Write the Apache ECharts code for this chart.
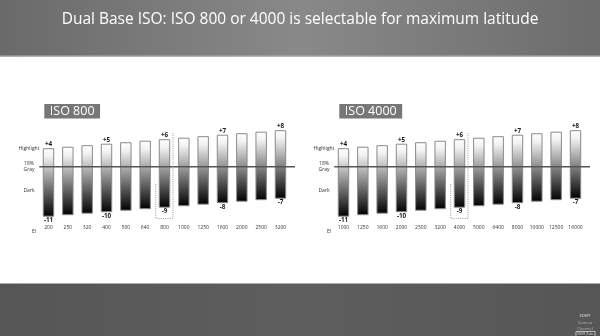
<!DOCTYPE html>
<html>
<head>
<meta charset="utf-8">
<style>
  html, body { margin: 0; padding: 0; background: #ffffff; }
  #chart { width: 600px; height: 336px; }
</style>
<script src="https://cdn.jsdelivr.net/npm/echarts@6/dist/echarts.min.js"></script>
</head>
<body>
<div id="chart"></div>
<script>
// ---- data ----
const titleText = 'Dual Base ISO: ISO 800 or 4000 is selectable for maximum latitude';
const panelTitles = ['ISO 800', 'ISO 4000'];
const eiLeft = ['200', '250', '320', '400', '500', '640', '800', '1000', '1250', '1600', '2000', '2500', '3200'];
const eiRight = ['1000', '1250', '1600', '2000', '2500', '3200', '4000', '5000', '6400', '8000', '10000', '12500', '16000'];
// stops above / below 18% gray
const highlightStops = [4, 4.33, 4.67, 5, 5.33, 5.67, 6, 6.33, 6.67, 7, 7.33, 7.67, 8];
const darkStops = [-11, -10.67, -10.33, -10, -9.67, -9.33, -9, -8.67, -8.33, -8, -7.67, -7.33, -7];
const highlightLabels = ['+4', '', '', '+5', '', '', '+6', '', '', '+7', '', '', '+8'];
const darkLabels = ['-11', '', '', '-10', '', '', '-9', '', '', '-8', '', '', '-7'];
const baseIndex = 6;            // base ISO column (800 / 4000)
const baseBox = [7.5, -3.85, -11.5]; // dotted marker: top, left-top, bottom (stops)
const yLabelValues = [4.1, 0, -5.3];
const yLabelTexts = ['Highlight', '18%\nGray', 'Dark'];
const grayLine = [[0, 0], [1, 0]];

// ---- layout ----
const Y_MIN = -12.3, Y_MAX = 9;
const GTOP = 126.2, GH = 95.85;
const panelOffsets = [0, 295];
const barGridLeft = 38.83, barGridW = 251.33;
const lineGridLeft = 39.3, lineGridW = 255.7;

const chart = echarts.init(document.getElementById('chart'), null, { renderer: 'canvas' });

const barData = highlightStops.map((h, i) => [i, h, darkStops[i]]);

function renderBar(params, api) {
  const idx = params.dataIndex;
  const top = api.coord([api.value(0), api.value(1)]);
  const bot = api.coord([api.value(0), api.value(2)]);
  const band = api.size([1, 0])[0];
  const bw = band * 0.54;
  const children = [{
    type: 'rect',
    shape: { x: top[0] - bw / 2, y: top[1], width: bw, height: bot[1] - top[1] },
    style: {
      fill: { type: 'linear', x: 0, y: 0, x2: 0, y2: 1,
        colorStops: [{ offset: 0, color: '#ffffff' }, { offset: 0.12, color: '#f2f2f2' }, { offset: 1, color: '#000000' }] },
      stroke: '#8a8a8a', lineWidth: 1
    }
  }];
  if (highlightLabels[idx]) {
    children.push({ type: 'text', x: top[0], y: top[1] - 4,
      style: { text: highlightLabels[idx], fill: '#1a1a1a', font: 'bold 6.3px "Open Sans"', align: 'center', verticalAlign: 'middle' } });
  }
  if (darkLabels[idx]) {
    children.push({ type: 'text', x: bot[0], y: bot[1] + 4.5,
      style: { text: darkLabels[idx], fill: '#1a1a1a', font: 'bold 6.3px "Open Sans"', align: 'center', verticalAlign: 'middle' } });
  }
  return { type: 'group', children };
}

function renderBox(params, api) {
  const c = api.value(0);
  const band = api.size([1, 0])[0];
  const xt = api.coord([c, api.value(1)]);
  const xl = api.coord([c, api.value(2)]);
  const xb = api.coord([c, api.value(3)]);
  const left = xt[0] - band * 0.455, right = xt[0] + band * 0.44;
  return {
    type: 'polyline',
    shape: { points: [[left, xl[1]], [left, xb[1]], [right, xb[1]], [right, xt[1]]] },
    style: { stroke: '#9a9a9a', lineWidth: 1, lineDash: [1, 1.2], fill: null }
  };
}

const grids = [], xAxes = [], yAxes = [], series = [], titles = [];
titles.push({ text: titleText, left: 'center', top: 7,
  textStyle: { color: '#ffffff', fontSize: 15.5, fontWeight: 'normal', fontFamily: 'Open Sans' } });

panelOffsets.forEach((off, p) => {
  const cats = p === 0 ? eiLeft : eiRight;
  // bar grid
  grids.push({ left: barGridLeft + off, width: barGridW, top: GTOP, height: GH });
  xAxes.push({ type: 'category', gridIndex: 2 * p, data: cats, boundaryGap: true,
    axisLine: { show: false }, axisTick: { show: false },
    axisLabel: { fontSize: 5, color: '#333', margin: 3.2, interval: 0, fontFamily: 'Open Sans' } });
  yAxes.push({ type: 'value', gridIndex: 2 * p, min: Y_MIN, max: Y_MAX,
    splitLine: { show: false }, axisLine: { show: false }, axisTick: { show: false },
    axisLabel: { customValues: yLabelValues, align: 'center', margin: 9.8, fontSize: 5, color: '#333', lineHeight: 5.5,
      fontFamily: 'Open Sans',
      formatter: v => { const k = yLabelValues.findIndex(x => Math.abs(x - v) < 1e-6); return k >= 0 ? yLabelTexts[k] : ''; } } });
  // line grid
  grids.push({ left: lineGridLeft + off, width: lineGridW, top: GTOP, height: GH });
  xAxes.push({ type: 'value', gridIndex: 2 * p + 1, min: 0, max: 1, show: false });
  yAxes.push({ type: 'value', gridIndex: 2 * p + 1, min: Y_MIN, max: Y_MAX, show: false });

  series.push({ type: 'line', name: '18% Gray', xAxisIndex: 2 * p + 1, yAxisIndex: 2 * p + 1,
    data: grayLine, symbol: 'none', silent: true, z: 3,
    lineStyle: { color: '#555555', width: 1.4 } });
  series.push({ type: 'custom', name: panelTitles[p], xAxisIndex: 2 * p, yAxisIndex: 2 * p,
    data: barData, renderItem: renderBar, z: 2, encode: { x: 0, y: [1, 2] } });
  series.push({ type: 'custom', name: 'base', xAxisIndex: 2 * p, yAxisIndex: 2 * p,
    data: [[baseIndex, baseBox[0], baseBox[1], baseBox[2]]], renderItem: renderBox, z: 4, encode: { x: 0, y: [1, 2, 3] } });

  titles.push({ text: panelTitles[p], left: 44.3 + off, top: 104,
    backgroundColor: '#777777', padding: [1, 5.5, 0, 5.5],
    textStyle: { color: '#ffffff', fontSize: 12.5, lineHeight: 13.5, fontWeight: 'normal', fontFamily: 'Open Sans' } });
  titles.push({ text: 'EI', left: 29 + off, top: 224.3, textAlign: 'center',
    textStyle: { color: '#333', fontSize: 5, fontWeight: 'normal', fontFamily: 'Open Sans' } });
});

const option = {
  animation: false,
  backgroundColor: '#ffffff',
  title: titles,
  graphic: [
    { type: 'rect', z: -10, shape: { x: 0, y: 0, width: 600, height: 56.5 },
      style: { fill: { type: 'linear', x: 0, y: 0, x2: 1, y2: 0,
        colorStops: [{ offset: 0, color: '#6a6a6a' }, { offset: 0.5, color: '#898989' }, { offset: 1, color: '#6c6c6c' }] } } },
    { type: 'rect', z: -9, shape: { x: 0, y: 55.5, width: 600, height: 1.2 }, style: { fill: '#b0b0b0' } },
    { type: 'rect', z: -10, shape: { x: 0, y: 283.5, width: 600, height: 52.5 },
      style: { fill: { type: 'linear', x: 0, y: 0, x2: 1, y2: 0,
        colorStops: [{ offset: 0, color: '#565656' }, { offset: 0.5, color: '#5e5e5e' }, { offset: 1, color: '#565656' }] } } },
    { type: 'text', z: 5, x: 585, y: 316, style: { text: 'SONY', fill: '#bbbbbb', font: 'bold 4px "Open Sans"', align: 'center', verticalAlign: 'middle' } },
    { type: 'text', z: 5, x: 585, y: 322.5, style: { text: 'Camera', fill: '#bbbbbb', font: '4px "Open Sans"', align: 'center', verticalAlign: 'middle' } },
    { type: 'text', z: 5, x: 585, y: 328.5, style: { text: 'Channel', fill: '#bbbbbb', font: '4px "Open Sans"', align: 'center', verticalAlign: 'middle' } },
    { type: 'rect', z: 5, shape: { x: 576, y: 331.5, width: 19, height: 5 }, style: { fill: '#444', stroke: '#dddddd', lineWidth: 0.8 } },
    { type: 'text', z: 6, x: 585.5, y: 334, style: { text: 'SONY|Tube', fill: '#eeeeee', font: '3px "Open Sans"', align: 'center', verticalAlign: 'middle' } }
  ],
  grid: grids,
  xAxis: xAxes,
  yAxis: yAxes,
  series: series
};
chart.setOption(option);
</script>
</body>
</html>
